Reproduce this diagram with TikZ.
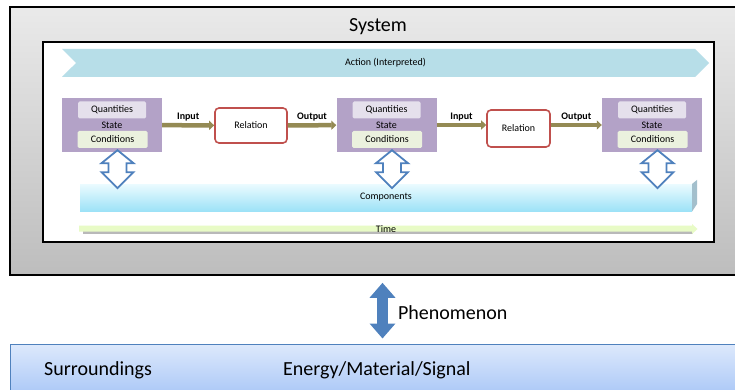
\documentclass[tikz,border=0pt]{standalone}
\usepackage{fontspec}
\setmainfont{Carlito}
\usetikzlibrary{arrows.meta,shapes.symbols}

\definecolor{sysgraytop}{HTML}{EAEAEA}
\definecolor{sysgraybot}{HTML}{BDBDBD}
\definecolor{actionblue}{HTML}{B7DEE8}
\definecolor{statepurple}{HTML}{B3A2C7}
\definecolor{quantlilac}{HTML}{E5E0EC}
\definecolor{condgreen}{HTML}{EBF1DE}
\definecolor{relred}{HTML}{C0504D}
\definecolor{flowolive}{HTML}{948A54}
\definecolor{linkblue}{HTML}{4F81BD}
\definecolor{comptop}{HTML}{EBFBFF}
\definecolor{compbot}{HTML}{9DE2F7}
\definecolor{compside}{HTML}{A3BFCC}
\definecolor{timegreen}{HTML}{E8FBC6}
\definecolor{surrtop}{HTML}{DDE9FC}
\definecolor{surrbot}{HTML}{A5C4F6}

\tikzset{
  smalltext/.style={font=\fontsize{10}{12}\selectfont},
  bigtext/.style={font=\fontsize{20}{24}\selectfont},
  actionband/.style={smalltext, signal, signal to=east, signal from=west, signal pointer angle=90,
    fill=actionblue, minimum width=647pt, minimum height=28pt, inner sep=0pt},
  statebox/.style={smalltext, fill=statepurple, minimum width=100pt, minimum height=54pt, inner sep=0pt},
  quantbox/.style={smalltext, fill=quantlilac, rounded corners=1.5pt, minimum width=68pt, minimum height=17pt, inner sep=0pt},
  condbox/.style={smalltext, fill=condgreen, rounded corners=1.5pt, minimum width=70pt, minimum height=17pt, inner sep=0pt},
  relbox/.style={smalltext, draw=relred, line width=1.6pt, fill=white, rounded corners=4pt, inner sep=0pt},
  flow/.style={flowolive, line width=4.5pt, -{Triangle[width=9pt,length=5pt]}},
  flowlabel/.style={font=\fontsize{10}{12}\selectfont\bfseries, above=2pt, inner sep=0pt, black},
  compbar/.style={smalltext, top color=comptop, bottom color=compbot, minimum width=612pt, minimum height=27pt, inner sep=0pt},
  linkarrow/.style={draw=linkblue, line width=1.8pt, fill=white, line join=miter},
  phenarrow/.style={linkblue, line width=11pt, {Triangle[width=25pt,length=15pt]}-{Triangle[width=25pt,length=15pt]}},
}

\begin{document}
\begin{tikzpicture}[x=1pt,y=-1pt]
    \useasboundingbox (0,0) rectangle (735,390);

    % System (outer box)
    \node[draw=black, line width=1.6pt, top color=sysgraytop, bottom color=sysgraybot,
          minimum width=735pt, minimum height=268pt, inner sep=0pt] (sys) at (377.5,141) {};
    \node[bigtext, anchor=base, inner sep=0pt] (systitle) at (378,32) {System};

    % inner panel
    \node[draw=black, line width=1.2pt, fill=white, minimum width=671pt, minimum height=200pt, inner sep=0pt] (panel) at (378.5,142) {};

    % Action band (top)
    \node[actionband] (act) at (385.5,63) {Action (Interpreted)};

    % States
    \foreach \name/\x in {s1/112, s2/386.5, s3/652} {
        \node[statebox] (\name) at (\x,125) {State};
        \node[quantbox] (\name q) at (\x,110) {Quantities};
        \node[condbox] (\name c) at (\x+0.5,139.5) {Conditions};
    }

    % Relations
    \node[relbox, minimum width=72pt, minimum height=35pt] (r1) at (251,125.5) {Relation};
    \node[relbox, minimum width=63pt, minimum height=37pt] (r2) at (518.5,128.5) {Relation};

    % Input / Output flows
    \draw[flow] (s1) -- (r1) node[flowlabel, midway] {Input};
    \draw[flow] (r1) -- (s2) node[flowlabel, midway] {Output};
    \draw[flow] (s2.east) -- (s2.east -| r2.west) node[flowlabel, midway] {Input};
    \draw[flow] (r2.east |- s3.west) -- (s3.west) node[flowlabel, midway] {Output};

    % Components (bar with side)
    \node[compbar] (comp) at (386,197.5) {Components};
    \fill[compside] (comp.south east) -- (comp.north east) -- ++(5,-4) -- ++(0,24) -- cycle;

    % links between states and components
    \foreach \name in {s1,s2,s3}
        \draw[linkarrow, shift={(\name.south)}] (5.5,-2) -- ++(16,13) -- ++(-7,0) -- ++(0,9) -- ++(7,0)
            -- ++(-16,16) -- ++(-16,-16) -- ++(7,0) -- ++(0,-9) -- ++(-7,0) -- cycle;

    % Time
    \fill[gray!55] (83,231) rectangle (693,233.5);
    \fill[timegreen] (79,225.5) -- (692,225.5) -- (692,224) -- (697.5,229) -- (692,234) -- (692,231.5) -- (79,231.5) -- cycle;
    \node[smalltext, inner sep=0pt] (time) at (386,229.5) {Time};

    % Surroundings (bottom)
    \node[draw=linkblue, line width=1pt, top color=surrtop, bottom color=surrbot,
          minimum width=735pt, minimum height=56pt, inner sep=0pt] (surr) at (377.5,372) {};
    \node[bigtext, anchor=west, inner sep=0pt] (surrlabel) at (44,370) {Surroundings};
    \node[bigtext, anchor=west, inner sep=0pt] (signals) at (283,370) {Energy/Material/Signal};

    % Phenomenon
    \coordinate (phenx) at (382.5,0);
    \draw[phenarrow, shorten <=7pt, shorten >=5pt] (sys.south -| phenx) -- (surr.north -| phenx)
        node[bigtext, midway, right=10pt, inner sep=0pt, black, yshift=-3pt] (phenlabel) {Phenomenon};
\end{tikzpicture}
\end{document}
